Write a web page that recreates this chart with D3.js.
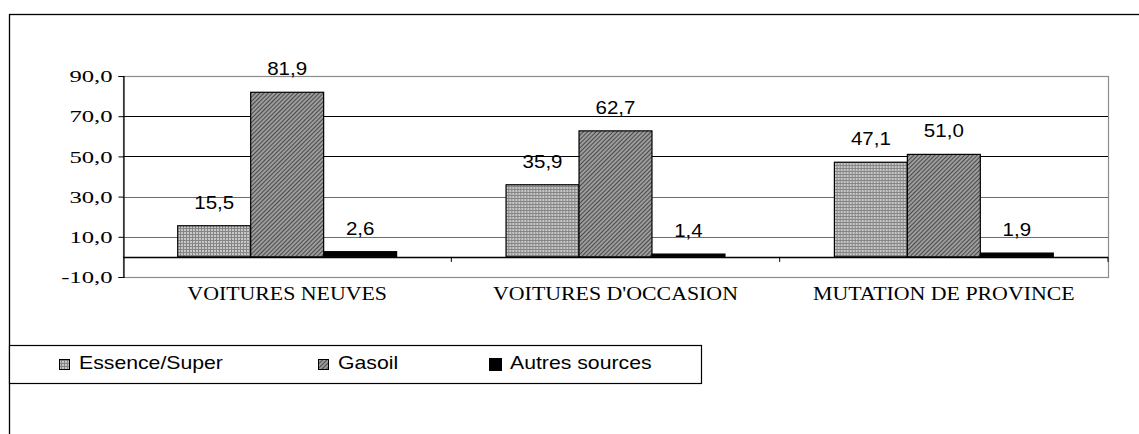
<!DOCTYPE html>
<html>
<head>
<meta charset="utf-8">
<script src="https://cdn.jsdelivr.net/npm/d3@7"></script>
<style>
  html, body { margin: 0; padding: 0; background: #fff; }
  svg { display: block; }
</style>
</head>
<body>
<div id="chart"></div>
<script>
// ---- data ----
const categories = ["VOITURES NEUVES", "VOITURES D'OCCASION", "MUTATION DE PROVINCE"];
const seriesNames = ["Essence/Super", "Gasoil", "Autres sources"];
const essenceValues = [15.5, 35.9, 47.1];
const gasoilValues = [81.9, 62.7, 51.0];
const autresValues = [2.6, 1.4, 1.9];
const yTicks = [-10, 10, 30, 50, 70, 90];

const seriesValues = [essenceValues, gasoilValues, autresValues];

// ---- layout ----
const W = 1139, H = 434;
const plot = { left: 123, right: 1108, top: 76, bottom: 277 };
const fmt = v => d3.format(".1f")(v).replace(".", ",").replace("\u2212", "-");

const svg = d3.select("#chart").append("svg")
  .attr("width", W).attr("height", H);

const defs = svg.append("defs");
// Essence/Super : fine grid pattern
const p1 = defs.append("pattern").attr("id", "patEssence")
  .attr("patternUnits", "userSpaceOnUse").attr("width", 3).attr("height", 3);
p1.append("rect").attr("width", 3).attr("height", 3).attr("fill", "#c8c8c8");
p1.append("rect").attr("x", 0).attr("y", 0).attr("width", 3).attr("height", 1).attr("fill", "#858585");
p1.append("rect").attr("x", 0).attr("y", 0).attr("width", 1).attr("height", 3).attr("fill", "#858585");
// Gasoil : diagonal hatch
const p2 = defs.append("pattern").attr("id", "patGasoil")
  .attr("patternUnits", "userSpaceOnUse").attr("width", 3).attr("height", 3)
  .attr("patternTransform", "rotate(45)");
p2.append("rect").attr("width", 3).attr("height", 3).attr("fill", "#9c9c9c");
p2.append("rect").attr("width", 1).attr("height", 3).attr("fill", "#4a4a4a");

const fills = ["url(#patEssence)", "url(#patGasoil)", "#000"];

svg.append("rect").attr("width", W).attr("height", H).attr("fill", "#fff");

// outer frame
svg.append("rect")
  .attr("x", 9.5).attr("y", 14.5).attr("width", W + 20).attr("height", H + 20)
  .attr("fill", "none").attr("stroke", "#000").attr("stroke-width", 1.3);

// scales
const y = d3.scaleLinear().domain([-10, 90]).range([plot.bottom, plot.top]);
const x0 = d3.scaleBand().domain(categories).range([plot.left, plot.right]).padding(0);
const x1 = d3.scaleBand().domain(seriesNames).range([0, x0.bandwidth()])
  .paddingInner(0).paddingOuter(0.75);

// plot area border (grey)
svg.append("rect")
  .attr("x", plot.left + 0.5).attr("y", plot.top + 0.5)
  .attr("width", plot.right - plot.left).attr("height", plot.bottom - plot.top)
  .attr("fill", "none").attr("stroke", "#8c8c8c").attr("stroke-width", 1.2);

// gridlines
const gridVals = yTicks.filter(t => t > -10 && t < 90);
svg.append("g").selectAll("line").data(gridVals).join("line")
  .attr("x1", plot.left).attr("x2", plot.right)
  .attr("y1", d => Math.round(y(d)) + 0.5).attr("y2", d => Math.round(y(d)) + 0.5)
  .attr("stroke", d => d >= 50 ? "#000" : "#6e6e6e").attr("stroke-width", 1);

// y axis
const yAxis = d3.axisLeft(y).tickValues(yTicks).tickSize(5).tickPadding(6).tickFormat(fmt);
const gy = svg.append("g").attr("transform", `translate(${plot.left + 0.5},0)`).call(yAxis);
gy.select(".domain").attr("stroke", "#000").attr("stroke-width", 1.2);
gy.selectAll(".tick line").attr("stroke", "#000");
gy.selectAll(".tick text")
  .attr("font-family", "'Liberation Serif', 'Times New Roman', serif")
  .attr("font-size", 17).attr("fill", "#000")
  .attr("dy", "0.34em")
  .each(function () {
    const t = d3.select(this);
    const len = this.getComputedTextLength();
    t.attr("textLength", len * 1.45).attr("lengthAdjust", "spacingAndGlyphs");
  });

// bars
const groups = svg.append("g").selectAll("g").data(categories).join("g")
  .attr("transform", d => `translate(${x0(d)},0)`);

groups.selectAll("rect")
  .data((c, ci) => seriesNames.map((s, si) => ({ s, si, v: seriesValues[si][ci] })))
  .join("rect")
  .attr("x", d => x1(d.s))
  .attr("y", d => y(d.v))
  .attr("width", x1.bandwidth())
  .attr("height", d => y(0) - y(d.v))
  .attr("fill", d => fills[d.si])
  .attr("stroke", "#000").attr("stroke-width", 1.2);

// zero line
svg.append("line")
  .attr("x1", plot.left).attr("x2", plot.right)
  .attr("y1", Math.round(y(0)) + 0.5).attr("y2", Math.round(y(0)) + 0.5)
  .attr("stroke", "#000").attr("stroke-width", 1.3);

// category tick marks on zero line
const catBounds = categories.slice(1).map(c => x0(c)).concat([plot.right]);
svg.append("g").selectAll("line").data(catBounds).join("line")
  .attr("x1", d => d).attr("x2", d => d)
  .attr("y1", y(0)).attr("y2", y(0) + 5)
  .attr("stroke", "#000").attr("stroke-width", 1);

// data labels
groups.selectAll("text.val")
  .data((c, ci) => seriesNames.map((s, si) => ({ s, si, v: seriesValues[si][ci] })))
  .join("text").attr("class", "val")
  .attr("transform", d => `translate(${x1(d.s) + x1.bandwidth() / 2},${y(d.v) - 17}) scale(1.14,1)`)
  .attr("text-anchor", "middle")
  .attr("font-family", "'Liberation Sans', Arial, sans-serif")
  .attr("font-size", 18).attr("fill", "#000")
  .text(d => fmt(d.v));

// category labels
svg.append("g").selectAll("text").data(categories).join("text")
  .attr("transform", d => `translate(${x0(d) + x0.bandwidth() / 2},300) scale(1.15,1)`)
  .attr("text-anchor", "middle")
  .attr("font-family", "'Liberation Serif', 'Times New Roman', serif")
  .attr("font-size", 19).attr("fill", "#000")
  .text(d => d);

// legend
const legend = svg.append("g");
legend.append("rect")
  .attr("x", 9.5).attr("y", 345.5).attr("width", 692).attr("height", 38)
  .attr("fill", "#fff").attr("stroke", "#000").attr("stroke-width", 1.2);
const legendX = [58, 317, 489];
const legendItems = legend.selectAll("g.item").data(seriesNames).join("g")
  .attr("class", "item")
  .attr("transform", (d, i) => `translate(${legendX[i]},0)`);
legendItems.append("rect")
  .attr("x", (d, i) => i === 2 ? 0.5 : 1.5)
  .attr("y", (d, i) => i === 2 ? 358.5 : 359.5)
  .attr("width", (d, i) => i === 2 ? 12 : 10)
  .attr("height", (d, i) => i === 2 ? 12 : 10)
  .attr("fill", (d, i) => fills[i])
  .attr("stroke", "#000").attr("stroke-width", 1);
legendItems.append("text")
  .attr("transform", "translate(21,369) scale(1.18,1)")
  .attr("font-family", "'Liberation Sans', Arial, sans-serif")
  .attr("font-size", 18).attr("fill", "#000")
  .text(d => d);
</script>
</body>
</html>
